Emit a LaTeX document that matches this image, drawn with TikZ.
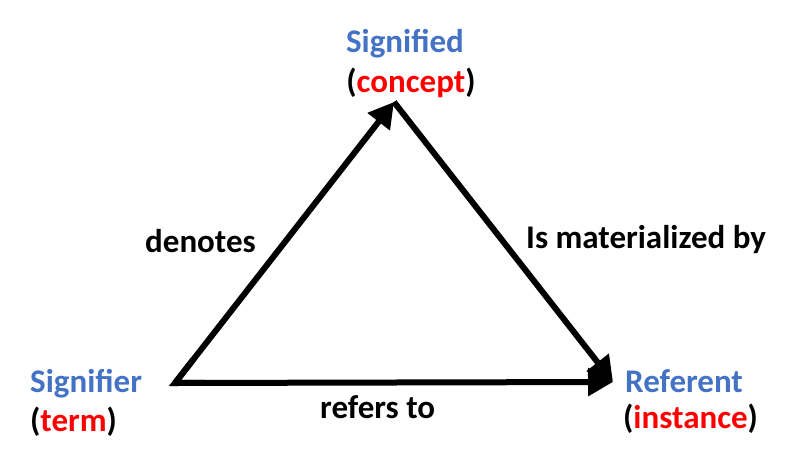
\documentclass[tikz,border=0pt]{standalone}
\usepackage{fontspec}
\setmainfont{Carlito}
\usetikzlibrary{arrows.meta,calc}
\definecolor{sigblue}{HTML}{4472C4}
\definecolor{sigred}{HTML}{FF0000}
\tikzset{
  lbl/.style={inner sep=0pt, font=\fontsize{33}{39}\selectfont\bfseries},
  rel/.style={line width=6pt, -{Triangle[length=25pt,width=27pt]}},
  relplain/.style={line width=6pt, line join=miter}
}
\begin{document}
\begin{tikzpicture}[x=1pt,y=-1pt]
\useasboundingbox (0,0) rectangle (794,455);
\coordinate (A) at (175,383);
\coordinate (B) at (394,102);
\coordinate (C) at (613,382);
% connectors
\draw[relplain] ($(A)!30pt!(B)$) -- (A) -- ($(A)!30pt!(C)$);
\draw[rel] (A) -- (B);
\draw[rel] (B) -- (C);
\draw[rel] (A) -- (C);
% labels
\node[lbl, text=sigblue, anchor=base] (sigd) at (405,52) {Signified};
\node[lbl, anchor=base] (conc) at (411,92) {(\textcolor{sigred}{concept})};
\node[lbl, anchor=base west] (den) at (145,252) {denotes};
\node[lbl, anchor=base west] (mat) at (526,248) {Is materialized by};
\node[lbl, text=sigblue, anchor=base west] (sigr) at (30,392) {Signifier};
\node[lbl, anchor=base west] (term) at (30,431) {(\textcolor{sigred}{term})};
\node[lbl, text=sigblue, anchor=base west] (ref) at (625,392) {Referent};
\node[lbl, anchor=base west] (inst) at (623,428) {(\textcolor{sigred}{instance})};
\node[lbl, anchor=base west] (rto) at (320,418) {refers to};
\end{tikzpicture}
\end{document}
